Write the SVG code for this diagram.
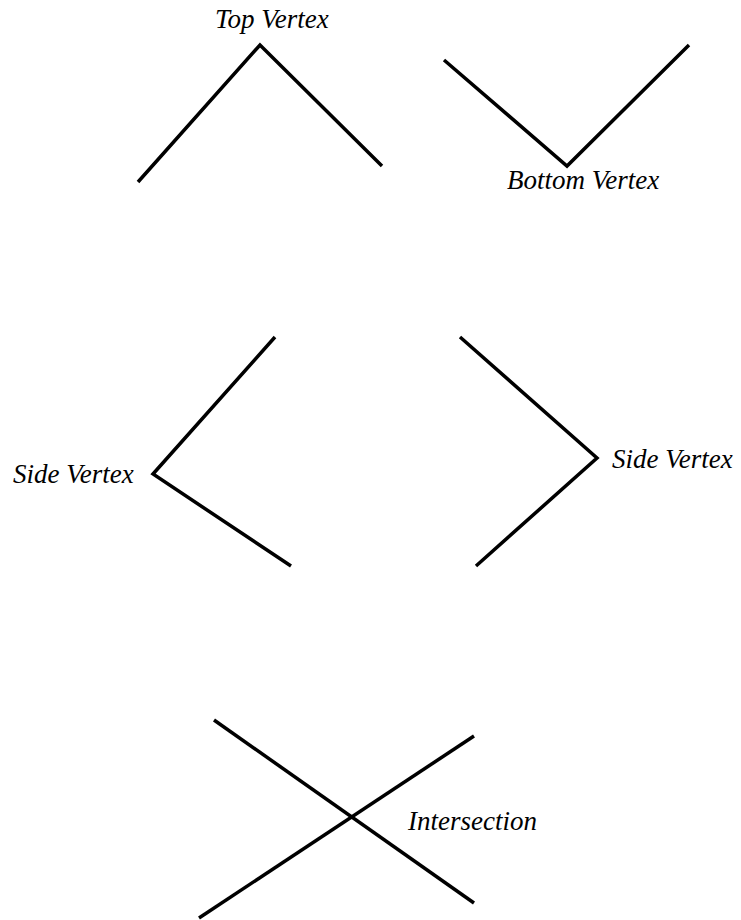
<svg xmlns="http://www.w3.org/2000/svg" width="741" height="920" viewBox="0 0 741 920">
<style>
.ln{fill:none;stroke:#000;stroke-width:3.5;stroke-linejoin:miter;stroke-linecap:butt}
.lb{font-family:"Liberation Serif","Times New Roman",serif;font-style:italic;font-size:27px;fill:#000}
</style>
<rect width="741" height="920" fill="#fff"/>
<g id="top-vertex">
<polyline class="ln" points="138,182 260,45 382,166"/>
<text class="lb" x="215" y="28">Top Vertex</text>
</g>
<g id="bottom-vertex">
<polyline class="ln" points="444,60 567,166 689,45"/>
<text class="lb" x="507" y="189">Bottom Vertex</text>
</g>
<g id="side-vertex-left">
<polyline class="ln" points="275,337 153,474 291,566"/>
<text class="lb" x="13" y="483">Side Vertex</text>
</g>
<g id="side-vertex-right">
<polyline class="ln" points="460,337 597,458 476,566"/>
<text class="lb" x="612" y="468">Side Vertex</text>
</g>
<g id="intersection">
<line class="ln" x1="214" y1="720" x2="474" y2="903"/>
<line class="ln" x1="199" y1="918" x2="474" y2="736"/>
<text class="lb" x="408" y="830">Intersection</text>
</g>
</svg>
